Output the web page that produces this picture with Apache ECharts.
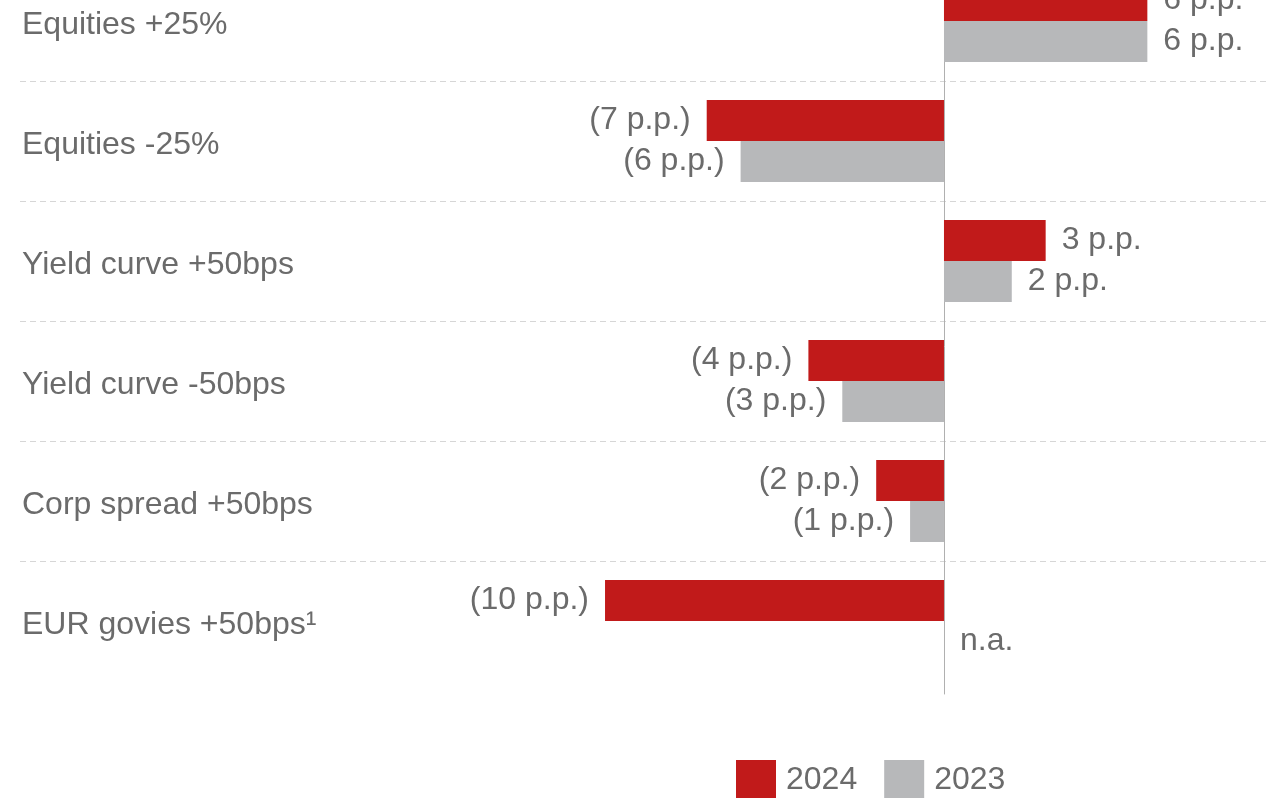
<!DOCTYPE html>
<html>
<head>
<meta charset="utf-8">
<title>Sensitivities</title>
<script src="https://cdn.jsdelivr.net/npm/echarts@6/dist/echarts.min.js"></script>
<style>
  html, body { margin: 0; padding: 0; background: #fff; }
  #chart { width: 1275px; height: 798px; }
</style>
</head>
<body>
<div id="chart"></div>
<script>
// scenario names (top to bottom)
var categories = ['Equities +25%', 'Equities -25%', 'Yield curve +50bps', 'Yield curve -50bps', 'Corp spread +50bps', 'EUR govies +50bps\u00b9'];
// impact in p.p., null = n.a.
var values2024 = [6, -7, 3, -4, -2, -10];
var values2023 = [6, -6, 2, -3, -1, null];
var seriesNames = ['2024', '2023'];

var RED = '#c11a1a';
var GREY = '#b7b8ba';
var TEXT = '#6b6b6b';
var FONT = '"Liberation Sans", Arial, sans-serif';

function fmt(v) {
  return v < 0 ? '(' + Math.abs(v) + ' p.p.)' : v + ' p.p.';
}

function buildData(arr) {
  return arr.map(function (v) {
    if (v === null) {
      return { value: 0, label: { position: 'right', formatter: 'n.a.' } };
    }
    return { value: v, label: { position: v < 0 ? 'left' : 'right', formatter: fmt(v) } };
  });
}

var xMin = -27.26, xMax = 9.53;

var chart = echarts.init(document.getElementById('chart'));
chart.setOption({
  animation: false,
  textStyle: { fontFamily: FONT },
  grid: [
    { left: 20, right: 8, top: -39, bottom: 117, outerBoundsMode: 'none', containLabel: false },
    // only used for the zero line, runs a bit lower
    { left: 20, right: 8, top: -39, bottom: 104, outerBoundsMode: 'none', containLabel: false }
  ],
  legend: {
    left: 736,
    top: 760,
    padding: 0,
    itemWidth: 40,
    itemHeight: 40,
    itemGap: 27,
    icon: 'rect',
    data: seriesNames,
    textStyle: { color: TEXT, fontSize: 32, fontFamily: FONT, padding: [0, 0, 0, 5] }
  },
  xAxis: [
    { type: 'value', gridIndex: 0, min: xMin, max: xMax, show: false },
    { type: 'value', gridIndex: 1, min: xMin, max: xMax, axisLabel: { show: false }, axisLine: { show: false }, axisTick: { show: false }, splitLine: { show: false } }
  ],
  yAxis: [
    {
      type: 'category',
      gridIndex: 0,
      data: categories,
      inverse: true,
      axisLine: { show: false },
      axisTick: { show: false },
      axisLabel: {
        inside: true,
        margin: 2,
        formatter: function (v) { return '{a|' + v + '}'; },
        rich: { a: { color: TEXT, fontSize: 32, fontFamily: FONT, padding: [8, 0, 0, 0] } }
      },
      splitLine: {
        show: true,
        showMinLine: false,
        showMaxLine: false,
        lineStyle: { color: '#d6d6d6', width: 1, type: [6, 4] }
      }
    },
    {
      type: 'value',
      gridIndex: 1,
      min: 0,
      max: 1,
      axisLine: { show: true, onZero: true, lineStyle: { color: '#b0b0b0', width: 1 } },
      axisLabel: { show: false },
      axisTick: { show: false },
      splitLine: { show: false }
    }
  ],
  series: [
    {
      name: seriesNames[0],
      type: 'bar',
      xAxisIndex: 0,
      yAxisIndex: 0,
      barWidth: 41,
      barGap: '0%',
      itemStyle: { color: RED },
      label: { show: true, distance: 16, color: TEXT, fontSize: 32, fontFamily: FONT },
      data: buildData(values2024)
    },
    {
      name: seriesNames[1],
      type: 'bar',
      xAxisIndex: 0,
      yAxisIndex: 0,
      barWidth: 41,
      barGap: '0%',
      itemStyle: { color: GREY },
      label: { show: true, distance: 16, color: TEXT, fontSize: 32, fontFamily: FONT },
      data: buildData(values2023)
    }
  ]
});
</script>
</body>
</html>
